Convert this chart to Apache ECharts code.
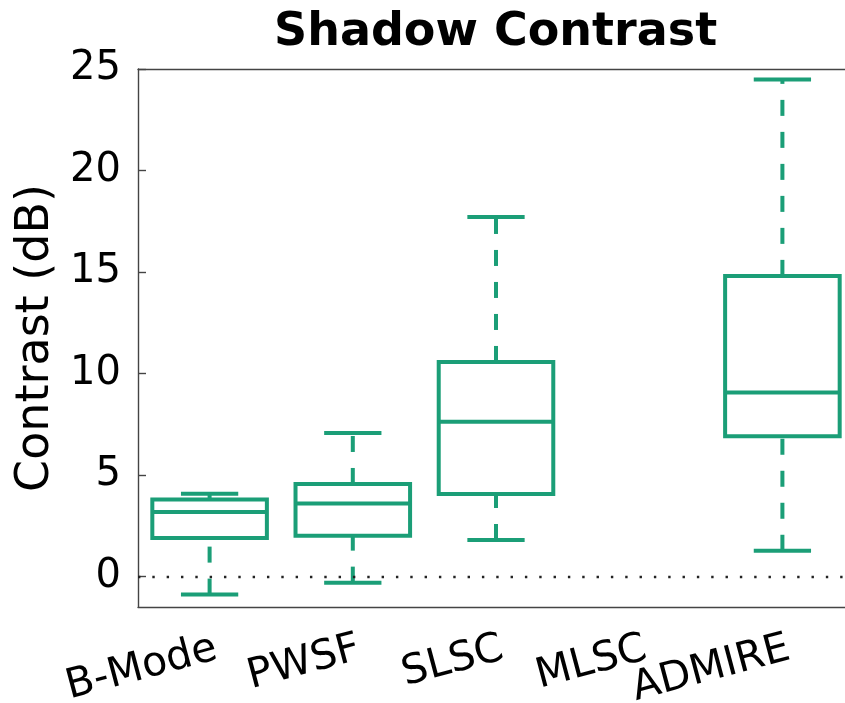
<!DOCTYPE html>
<html>
<head>
<meta charset="utf-8">
<script src="https://cdn.jsdelivr.net/npm/echarts@6/dist/echarts.min.js"></script>
<style>
  html, body { margin: 0; padding: 0; background: #fff; }
  #chart { width: 845px; height: 703px; }
</style>
</head>
<body>
<div id="chart"></div>
<script>
// ---- data ----
const categories = ['B-Mode', 'PWSF', 'SLSC', 'MLSC', 'ADMIRE'];
const whiskerLow  = [-0.89, -0.30, 1.80, null, 1.27];
const quart1      = [1.90, 2.01, 4.07, null, 6.91];
const medians     = [3.18, 3.60, 7.62, null, 9.06];
const quart3      = [3.79, 4.56, 10.57, null, 14.81];
const whiskerHigh = [4.08, 7.07, 17.71, null, 24.48];
const yTicks = [0, 5, 10, 15, 20, 25];

const COLOR = '#1b9e77';
const FONT = 'DejaVu Sans';
const AXIS = '#444444';

const boxData = [];
categories.forEach((c, i) => {
  if (medians[i] === null) return;
  boxData.push([i, whiskerLow[i], quart1[i], medians[i], quart3[i], whiskerHigh[i]]);
});

function renderBox(params, api) {
  const i = api.value(0);
  const pLow = api.coord([i, api.value(1)]);
  const pQ1 = api.coord([i, api.value(2)]);
  const pMed = api.coord([i, api.value(3)]);
  const pQ3 = api.coord([i, api.value(4)]);
  const pHigh = api.coord([i, api.value(5)]);
  const band = api.size([1, 0])[0];
  const bh = band * 0.40;
  const ch = band * 0.20;
  const x = pMed[0];
  const solid = { stroke: COLOR, lineWidth: 4, fill: null, lineJoin: 'miter' };
  const dashed = { stroke: COLOR, lineWidth: 4, lineDash: [16, 16], lineCap: 'butt' };
  return {
    type: 'group',
    children: [
      { type: 'line', shape: { x1: x, y1: pLow[1], x2: x, y2: pQ1[1] }, style: dashed },
      { type: 'line', shape: { x1: x, y1: pQ3[1], x2: x, y2: pHigh[1] }, style: dashed },
      { type: 'line', shape: { x1: x - ch, y1: pLow[1], x2: x + ch, y2: pLow[1] }, style: solid },
      { type: 'line', shape: { x1: x - ch, y1: pHigh[1], x2: x + ch, y2: pHigh[1] }, style: solid },
      { type: 'rect', shape: { x: x - bh, y: pQ3[1], width: 2 * bh, height: pQ1[1] - pQ3[1] }, style: solid },
      { type: 'line', shape: { x1: x - bh, y1: pMed[1], x2: x + bh, y2: pMed[1] }, style: solid }
    ]
  };
}

const chart = echarts.init(document.getElementById('chart'), null, { renderer: 'canvas' });
chart.setOption({
  animation: false,
  backgroundColor: '#ffffff',
  title: {
    text: 'Shadow Contrast',
    left: 269,
    top: 5,
    textStyle: { fontFamily: FONT, fontSize: 46, fontWeight: 'bold', color: '#000' }
  },
  grid: { left: 138, top: 69, width: 716, height: 538, containLabel: false, outerBoundsMode: 'none' },
  xAxis: [
    {
      type: 'category',
      data: categories,
      position: 'bottom',
      boundaryGap: true,
      axisLine: { onZero: false, lineStyle: { color: AXIS, width: 1.4 } },
      axisTick: { inside: true, length: 8, alignWithLabel: true, lineStyle: { color: AXIS, width: 1.4 } },
      axisLabel: {
        interval: 0, rotate: 15, margin: 43, hideOverlap: false,
        padding: [0, -7, 0, 0],
        fontFamily: FONT, fontSize: 41, color: '#000'
      },
      splitLine: { show: false }
    },
    {
      type: 'category',
      data: categories,
      position: 'top',
      boundaryGap: true,
      axisLine: { onZero: false, lineStyle: { color: AXIS, width: 1.4 } },
      axisTick: { inside: true, length: 6, alignWithLabel: true, lineStyle: { color: AXIS, width: 1.4 } },
      axisLabel: { show: false },
      splitLine: { show: false }
    }
  ],
  yAxis: {
    type: 'value',
    min: -1.5,
    max: 25,
    name: 'Contrast (dB)',
    nameLocation: 'middle',
    nameGap: 79,
    nameTextStyle: { fontFamily: FONT, fontSize: 46, color: '#000' },
    axisLine: { show: true, onZero: false, lineStyle: { color: AXIS, width: 1.4 } },
    axisTick: { show: true, inside: true, length: 8, customValues: yTicks, lineStyle: { color: AXIS, width: 1.4 } },
    axisLabel: { customValues: yTicks, margin: 17, fontFamily: FONT, fontSize: 40, color: '#000' },
    splitLine: { show: false }
  },
  series: [
    {
      type: 'custom',
      xAxisIndex: 0,
      yAxisIndex: 0,
      renderItem: renderBox,
      encode: { x: 0, y: [1, 2, 3, 4, 5] },
      data: boxData,
      clip: false,
      markLine: {
        silent: true,
        symbol: 'none',
        label: { show: false },
        lineStyle: { color: '#222', width: 2.4, type: [2.4, 11.93] },
        data: [{ yAxis: 0 }]
      },
      z: 3
    }
  ]
});
</script>
</body>
</html>
